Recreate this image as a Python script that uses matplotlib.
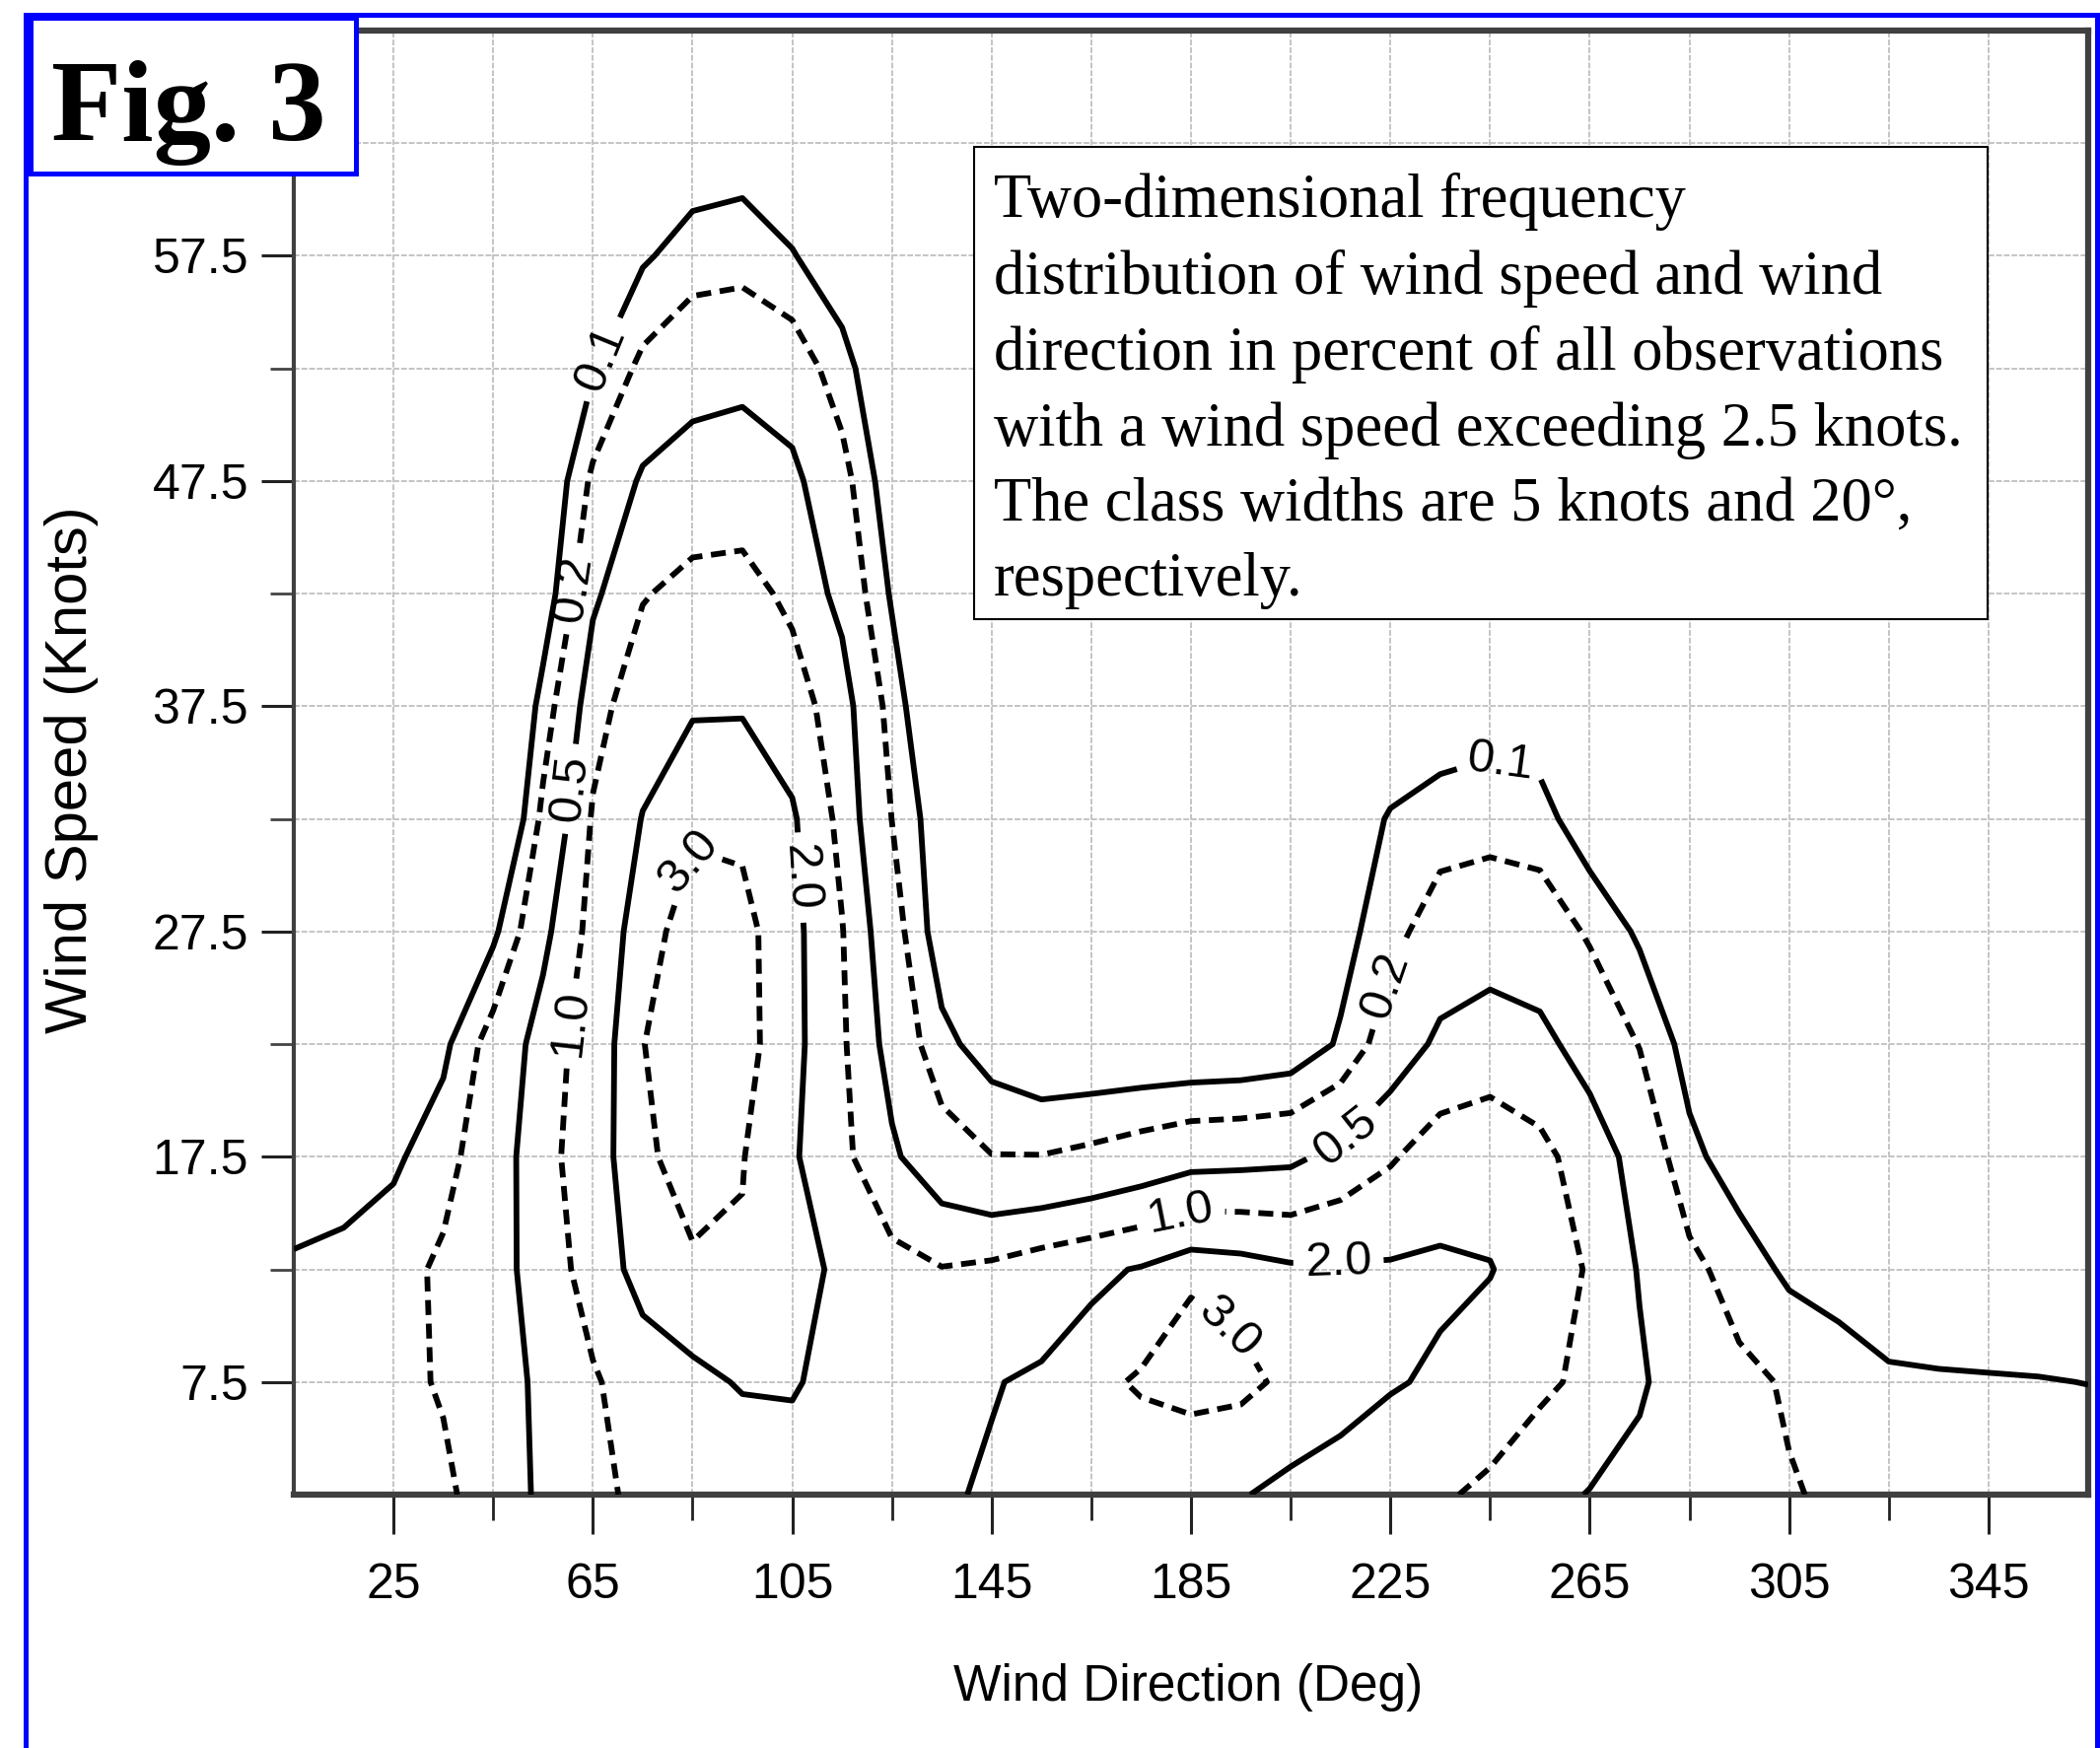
import numpy as np
import matplotlib
matplotlib.use("Agg")
import matplotlib.pyplot as plt
from matplotlib import font_manager
from matplotlib.lines import Line2D
from matplotlib.patches import Rectangle
from matplotlib.ticker import FixedLocator

# grid of the frequency table (percent)
directions = [5, 15, 25, 35, 45, 55, 65, 75, 85, 95, 105, 115, 125, 135, 145, 155, 165, 175, 185,
              195, 205, 215, 225, 235, 245, 255, 265, 275, 285, 295, 305, 315, 325, 335, 345, 355, 365]
speeds = [2.5, 7.5, 12.5, 17.5, 22.5, 27.5, 32.5, 37.5, 42.5, 47.5, 52.5, 57.5, 62.5, 67.5]

freq_pct = [
    # 2.5 kn
    [0.15, 0.15, 0.16, 0.17, 0.305, 0.585, 0.76, 1.3, 1.4, 1.5, 1.6, 1.7, 1.8, 1.9, 2.1, 2.2, 2.25, 2.2, 2.05,
     2.05, 1.8, 1.6, 1.35, 1.08, 0.88, 0.62, 0.485, 0.40, 0.32, 0.26, 0.21, 0.18, 0.16, 0.15, 0.15, 0.15, 0.15],
    # 7.5 kn
    [0.13, 0.14, 0.16, 0.216, 0.355, 0.583, 0.93, 1.4, 1.8, 2.07, 2.09, 1.7, 1.65, 1.75, 1.95, 2.15, 2.7, 3.15, 3.5,
     3.3, 2.75, 2.45, 2.1, 1.85, 1.5, 1.15, 0.85, 0.55, 0.33, 0.24, 0.185, 0.15, 0.11, 0.107, 0.105, 0.103, 0.099],
    # 12.5 kn
    [0.105, 0.11, 0.15, 0.23, 0.38, 0.68, 1.35, 2.55, 2.85, 2.9, 2.55, 1.75, 1.25, 1.03, 1.15, 1.45, 1.75, 2.1, 2.85,
     2.6, 2.2, 2.15, 2.15, 2.2, 2.05, 1.5, 0.935, 0.477, 0.247, 0.143, 0.087, 0.07, 0.065, 0.06, 0.058, 0.056, 0.055],
    # 17.5 kn
    [0.08, 0.085, 0.088, 0.15, 0.345, 0.77, 1.58, 2.8, 3.5, 3.05, 2.18, 1.18, 0.56, 0.3, 0.205, 0.205, 0.24, 0.3, 0.38,
     0.4, 0.43, 0.62, 0.93, 1.4, 1.5, 1.2, 0.72, 0.385, 0.12, 0.07, 0.055, 0.045, 0.04, 0.04, 0.04, 0.04, 0.04],
    # 22.5 kn
    [0.05, 0.055, 0.065, 0.084, 0.288, 0.671, 1.48, 2.98, 3.5, 3.35, 2.45, 1.1, 0.382, 0.123, 0.07, 0.05, 0.05, 0.05, 0.05,
     0.052, 0.06, 0.11, 0.32, 0.58, 0.7, 0.6, 0.376, 0.194, 0.075, 0.05, 0.04, 0.035, 0.03, 0.03, 0.03, 0.03, 0.03],
    # 27.5 kn
    [0.03, 0.032, 0.035, 0.045, 0.085, 0.416, 1.27, 2.65, 3.45, 3.3, 2.45, 1.03, 0.292, 0.065, 0.04, 0.035, 0.035, 0.035, 0.035,
     0.037, 0.045, 0.075, 0.156, 0.3, 0.35, 0.32, 0.181, 0.088, 0.05, 0.035, 0.03, 0.028, 0.025, 0.025, 0.025, 0.025, 0.025],
    # 32.5 kn
    [0.02, 0.02, 0.022, 0.025, 0.025, 0.242, 1.07, 2.05, 2.85, 2.8, 2.19, 0.83, 0.198, 0.06, 0.03, 0.025, 0.025, 0.025, 0.025,
     0.025, 0.03, 0.05, 0.11, 0.14, 0.15, 0.135, 0.06, 0.04, 0.03, 0.02, 0.02, 0.02, 0.02, 0.02, 0.02, 0.02, 0.02],
    # 37.5 kn
    [0.015, 0.015, 0.015, 0.015, 0.02, 0.133, 0.79, 1.45, 1.9, 1.92, 1.35, 0.71, 0.15, 0.035, 0.02, 0.018, 0.018, 0.018, 0.018,
     0.018, 0.02, 0.025, 0.04, 0.06, 0.07, 0.06, 0.04, 0.025, 0.02, 0.015, 0.015, 0.015, 0.015, 0.015, 0.015, 0.015, 0.015],
    # 42.5 kn
    [0.01, 0.01, 0.01, 0.01, 0.012, 0.061, 0.435, 0.96, 1.2, 1.25, 0.87, 0.40, 0.091, 0.03, 0.015, 0.012, 0.012, 0.012, 0.012,
     0.012, 0.012, 0.012, 0.015, 0.02, 0.02, 0.02, 0.015, 0.012, 0.01, 0.01, 0.01, 0.01, 0.01, 0.01, 0.01, 0.01, 0.01],
    # 47.5 kn
    [0.008, 0.008, 0.008, 0.008, 0.01, 0.045, 0.234, 0.56, 0.68, 0.7, 0.6, 0.271, 0.06, 0.025, 0.01, 0.008, 0.008, 0.008, 0.008,
     0.008, 0.008, 0.008, 0.008, 0.008, 0.008, 0.008, 0.008, 0.008, 0.008, 0.008, 0.008, 0.008, 0.008, 0.008, 0.008, 0.008, 0.008],
    # 52.5 kn
    [0.006, 0.006, 0.006, 0.006, 0.008, 0.03, 0.093, 0.244, 0.38, 0.42, 0.325, 0.134, 0.045, 0.015, 0.006, 0.006, 0.006, 0.006, 0.006,
     0.006, 0.006, 0.006, 0.006, 0.006, 0.006, 0.006, 0.006, 0.006, 0.006, 0.006, 0.006, 0.006, 0.006, 0.006, 0.006, 0.006, 0.006],
    # 57.5 kn
    [0.005, 0.005, 0.005, 0.005, 0.005, 0.015, 0.04, 0.09, 0.14, 0.15, 0.105, 0.06, 0.03, 0.01, 0.005, 0.005, 0.005, 0.005, 0.005,
     0.005, 0.005, 0.005, 0.005, 0.005, 0.005, 0.005, 0.005, 0.005, 0.005, 0.005, 0.005, 0.005, 0.005, 0.005, 0.005, 0.005, 0.005],
    # 62.5 kn
    [0.004, 0.004, 0.004, 0.004, 0.004, 0.008, 0.015, 0.04, 0.06, 0.068, 0.05, 0.025, 0.012, 0.006, 0.004, 0.004, 0.004, 0.004, 0.004,
     0.004, 0.004, 0.004, 0.004, 0.004, 0.004, 0.004, 0.004, 0.004, 0.004, 0.004, 0.004, 0.004, 0.004, 0.004, 0.004, 0.004, 0.004],
    # 67.5 kn
    [0.003, 0.003, 0.003, 0.003, 0.003, 0.004, 0.006, 0.01, 0.015, 0.018, 0.015, 0.008, 0.005, 0.004, 0.003, 0.003, 0.003, 0.003, 0.003,
     0.003, 0.003, 0.003, 0.003, 0.003, 0.003, 0.003, 0.003, 0.003, 0.003, 0.003, 0.003, 0.003, 0.003, 0.003, 0.003, 0.003, 0.003],
]

levels = [0.1, 0.2, 0.5, 1.0, 2.0, 3.0]
xticks_major = [25, 65, 105, 145, 185, 225, 265, 305, 345]
xticks_minor = [45, 85, 125, 165, 205, 245, 285, 325]
yticks_major = [7.5, 17.5, 27.5, 37.5, 47.5, 57.5]
yticks_minor = [12.5, 22.5, 32.5, 42.5, 52.5, 62.5]
ytick_labels = ["7.5", "17.5", "27.5", "37.5", "47.5", "57.5"]

# where the level labels sit (one list per level)
label_spots = {
    0.1: [(66, 53), (246, 34.4)],
    0.2: [(60.5, 42.7), (225.3, 25.0)],
    0.5: [(61.8, 33.8), (216.4, 18.3)],
    1.0: [(61.3, 23.4), (182.8, 15.0)],
    2.0: [(107, 29.9), (214.6, 12.9)],
    3.0: [(85.2, 30.5), (194, 10.3)],
}

note = ("Two-dimensional frequency\n"
        "distribution of wind speed and wind\n"
        "direction in percent of all observations\n"
        "with a wind speed exceeding 2.5 knots.\n"
        "The class widths are 5 knots and 20\u00b0,\n"
        "respectively.")


def have_font(name):
    try:
        font_manager.findfont(font_manager.FontProperties(family=name), fallback_to_default=False)
        return True
    except Exception:
        return False


plt.rcParams['font.family'] = ['Liberation Sans', 'DejaVu Sans']
if have_font('Liberation Sans Narrow'):
    narrow = ['Liberation Sans Narrow', 'DejaVu Sans']
    xt_size, xl_size, cl_size = 42, 43, 40
else:
    narrow = ['Liberation Sans', 'DejaVu Sans']
    xt_size, xl_size, cl_size = 36, 37, 35
serif = ['Liberation Serif', 'DejaVu Serif']

W, H = 2130, 1773
fig = plt.figure(figsize=(W / 100, H / 100), dpi=100)
ax = fig.add_axes([298 / W, 1 - 1516 / H, (2118 - 298) / W, (1516 - 31) / H])

dash = (0, (2.6, 1.5))
styles = ['solid', dash, 'solid', dash, 'solid', dash]
Z = np.log10(np.array(freq_pct))

# one contour set per level so each can get its own labels
with plt.rc_context({'font.family': narrow}):
    for lv, ls in zip(levels, styles):
        cs = ax.contour(directions, speeds, Z, levels=[np.log10(lv)], colors='black',
                        linewidths=4.2, linestyles=[ls], zorder=3)
        ax.clabel(cs, manual=label_spots[lv], inline=True, inline_spacing=12,
                  fmt=lambda v: f"{10 ** v:.1f}", fontsize=cl_size, colors='black')

ax.set_xlim(5, 365)
ax.set_ylim(2.5, 67.5)
ax.set_xticks(xticks_major)
ax.set_xticklabels([str(v) for v in xticks_major], fontsize=xt_size, fontfamily=narrow)
ax.xaxis.set_minor_locator(FixedLocator(xticks_minor))
ax.set_yticks(yticks_major)
ax.set_yticklabels(ytick_labels, fontsize=36)
ax.yaxis.set_minor_locator(FixedLocator(yticks_minor))

ax.tick_params(axis='x', which='major', direction='out', length=29, width=2.2, pad=21, color='#222222')
ax.tick_params(axis='x', which='minor', direction='out', length=19, width=2.0, color='#222222')
ax.tick_params(axis='y', which='major', direction='out', length=24, width=2.2, pad=9, color='#222222')
ax.tick_params(axis='y', which='minor', direction='out', length=17, width=2.0, color='#444444')

ax.grid(True, which='both', color='#c4c4c4', linestyle=(0, (3, 1)), linewidth=1.4)
ax.set_axisbelow(True)
for side in ['top', 'bottom', 'right']:
    ax.spines[side].set_linewidth(4.5)
    ax.spines[side].set_color('#404040')
ax.spines['left'].set_linewidth(3)
ax.spines['left'].set_color('#404040')

fig.text(1205 / W, 1 - 1725 / H, 'Wind Direction (Deg)', ha='center', va='baseline',
         fontsize=xl_size, fontfamily=narrow)
fig.text(73 / W, 0.5595, 'Wind Speed (Knots)', rotation=90, ha='center', va='center', fontsize=43)

# note box (baseline given for the last line)
fig.add_artist(Rectangle((988 / W, 1 - 628 / H), (2016 - 988) / W, (628 - 149) / H,
                         transform=fig.transFigure, facecolor='white', edgecolor='black',
                         linewidth=1.5, zorder=10))
fig.text(1008 / W, 1 - 604 / H, note, ha='left', va='baseline', fontsize=45,
         fontfamily=serif, linespacing=1.41, zorder=11)

# blue frame and figure tag
fig.add_artist(Line2D([26 / W, 26 / W, 2127 / W, 2127 / W], [0, 1 - 15 / H, 1 - 15 / H, 0],
                      transform=fig.transFigure, color='#0000ff', linewidth=3.6,
                      solid_joinstyle='miter', zorder=12))
fig.add_artist(Rectangle((31 / W, 1 - 176 / H), (361 - 31) / W, (176 - 18) / H,
                         transform=fig.transFigure, facecolor='white', edgecolor='#0000ff',
                         linewidth=3.6, zorder=12))
fig.text(52 / W, 1 - 142 / H, 'Fig. 3', ha='left', va='baseline', fontsize=84,
         fontweight='bold', fontfamily=serif, zorder=13)

fig.savefig('out.png', dpi=100)
